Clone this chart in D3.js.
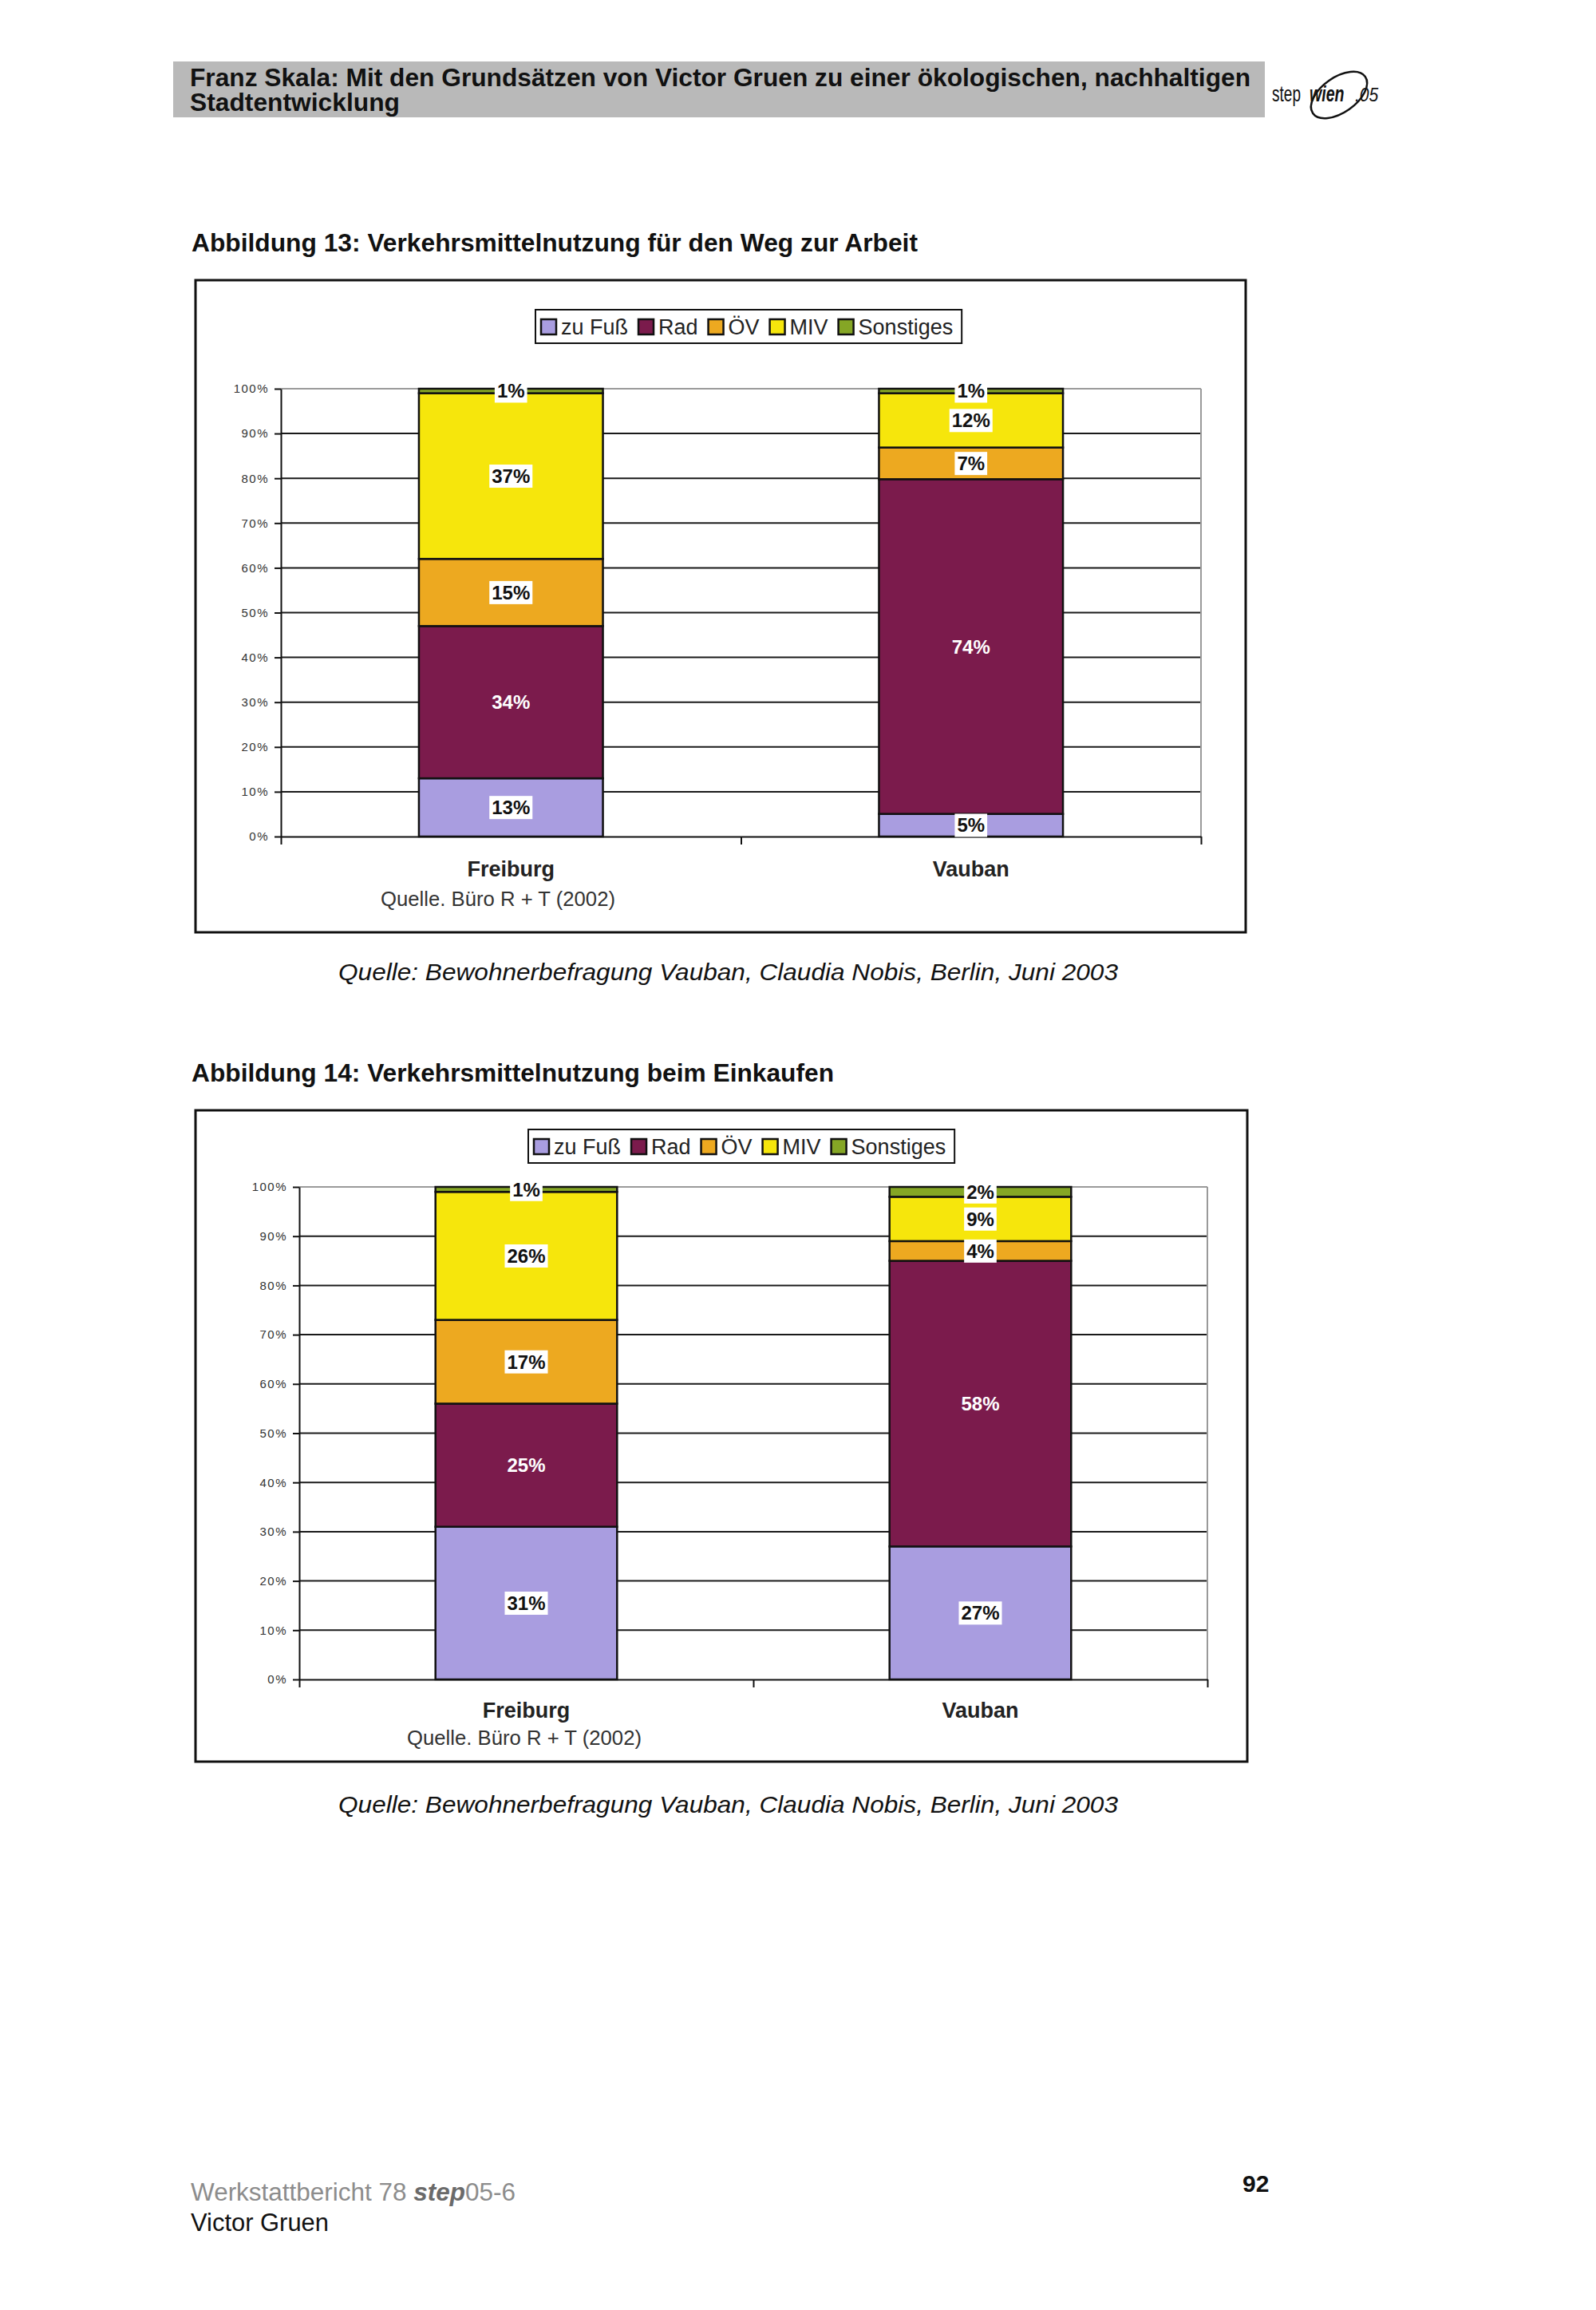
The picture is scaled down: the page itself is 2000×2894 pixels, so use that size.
<!DOCTYPE html>
<html lang="de">
<head>
<meta charset="utf-8"/>
<title>Verkehrsmittelnutzung Freiburg / Vauban</title>
<script src="https://cdn.jsdelivr.net/npm/d3@7"></script>
<style>
body { margin: 0; background: #fff; }
svg { display: block; font-family: "Liberation Sans", Arial, sans-serif; }
</style>
</head>
<body>
<svg id="page"></svg>
<script>
// categories and series (values in %, bottom to top)
const categories = ['Freiburg', 'Vauban']
const modes = ['zu Fuß', 'Rad', 'ÖV', 'MIV', 'Sonstiges']

// Abbildung 13: Weg zur Arbeit
const arbeitFreiburg = [13, 34, 15, 37, 1]
const arbeitVauban = [5, 74, 7, 12, 1]

// Abbildung 14: beim Einkaufen
const einkaufFreiburg = [31, 25, 17, 26, 1]
const einkaufVauban = [27, 58, 4, 9, 2]

const yTicks = [0, 10, 20, 30, 40, 50, 60, 70, 80, 90, 100]

const modeColors = ['#a99de0', '#7b1b4c', '#eda920', '#f6e60c', '#85a625']

const W = 2000, H = 2894
const svg = d3.select('#page').attr('width', W).attr('height', H).attr('viewBox', `0 0 ${W} ${H}`)
svg.append('rect').attr('width', W).attr('height', H).attr('fill', '#fff')

// ---- page header ----
svg.append('rect').attr('x', 217).attr('y', 77).attr('width', 1368).attr('height', 70).attr('fill', '#b9b9b9')
const head = svg.append('text').attr('font-size', 31).attr('font-weight', 'bold').attr('fill', '#111')
head.append('tspan').attr('x', 238).attr('y', 108)
  .attr('textLength', 1329).attr('lengthAdjust', 'spacingAndGlyphs')
  .text('Franz Skala: Mit den Grundsätzen von Victor Gruen zu einer ökologischen, nachhaltigen')
head.append('tspan').attr('x', 238).attr('y', 139)
  .attr('textLength', 263).attr('lengthAdjust', 'spacingAndGlyphs')
  .text('Stadtentwicklung')

// logo: narrow letters by squeezing each piece horizontally
const logo = svg.append('g')
logo.append('ellipse').attr('cx', 1678).attr('cy', 119).attr('rx', 40).attr('ry', 22)
  .attr('transform', 'rotate(-35 1678 119)')
  .attr('fill', 'none').attr('stroke', '#111').attr('stroke-width', 2.5)
logo.append('text').attr('transform', 'translate(1594,127) scale(0.68,1)')
  .attr('font-size', 28).attr('fill', '#111').text('step')
logo.append('text').attr('transform', 'translate(1641,127) scale(0.7,1)')
  .attr('font-size', 28).attr('font-weight', 'bold').attr('font-style', 'italic')
  .attr('fill', '#111').text('wien')
logo.append('text').attr('transform', 'translate(1698,127) scale(0.88,1)')
  .attr('font-size', 24).attr('font-style', 'italic').attr('fill', '#111').text('.05')

// ---- titles and captions ----
function title(txt, y, len) {
  svg.append('text').attr('x', 240).attr('y', y)
    .attr('font-size', 32).attr('font-weight', 'bold').attr('fill', '#111')
    .attr('textLength', len).attr('lengthAdjust', 'spacingAndGlyphs')
    .text(txt)
}
function caption(y) {
  svg.append('text').attr('x', 424).attr('y', y)
    .attr('font-size', 29).attr('font-style', 'italic').attr('fill', '#111')
    .attr('textLength', 977).attr('lengthAdjust', 'spacingAndGlyphs')
    .text('Quelle: Bewohnerbefragung Vauban, Claudia Nobis, Berlin, Juni 2003')
}

title('Abbildung 13: Verkehrsmittelnutzung für den Weg zur Arbeit', 315, 910)
caption(1228)
title('Abbildung 14: Verkehrsmittelnutzung beim Einkaufen', 1355, 805)
caption(2271)

// ---- chart ----
function drawChart(cfg, values) {
  const rows = categories.map((c, i) => {
    const r = { cat: c }
    modes.forEach((m, j) => { r[m] = values[i][j] })
    return r
  })

  const x = d3.scaleBand().domain(categories).range([cfg.x0, cfg.x1])
    .paddingInner(0.6).paddingOuter(0.3)
  const y = d3.scaleLinear().domain([0, 1]).range([cfg.y0, cfg.y1])

  // excel style 100% stack
  const layers = d3.stack().keys(modes).offset(d3.stackOffsetExpand)(rows)

  const g = svg.append('g')

  // frame
  g.append('rect').attr('x', cfg.fx).attr('y', cfg.fy).attr('width', cfg.fw).attr('height', cfg.fh)
    .attr('fill', '#fff').attr('stroke', '#111').attr('stroke-width', 3)

  // gridlines
  g.append('g').selectAll('line')
    .data(yTicks.filter(t => t > 0))
    .join('line')
    .attr('x1', cfg.x0).attr('x2', cfg.x1)
    .attr('y1', t => y(t / 100)).attr('y2', t => y(t / 100))
    .attr('stroke', t => t === 100 ? '#9a9a9a' : '#1a1a1a')
    .attr('stroke-width', 2)
  g.append('line')
    .attr('x1', cfg.x1).attr('x2', cfg.x1).attr('y1', cfg.y1).attr('y2', cfg.y0)
    .attr('stroke', '#9a9a9a').attr('stroke-width', 2)

  // y axis
  const yAxis = g.append('g').attr('transform', `translate(${cfg.x0},0)`)
    .call(d3.axisLeft(y).tickValues(yTicks.map(t => t / 100))
      .tickFormat(d3.format('.0%')).tickSize(8).tickSizeOuter(0).tickPadding(7))
  yAxis.selectAll('path, line').attr('stroke', '#111').attr('stroke-width', 2)
  yAxis.selectAll('text').attr('font-size', 15).attr('letter-spacing', 1.5)
    .attr('fill', '#333').attr('font-family', '"Liberation Sans", Arial, sans-serif')

  // x axis (ticks between categories)
  const xEdge = d3.scaleLinear().domain([0, categories.length]).range([cfg.x0, cfg.x1])
  const xAxis = g.append('g').attr('transform', `translate(0,${cfg.y0})`)
    .call(d3.axisBottom(xEdge).tickValues(d3.range(categories.length + 1))
      .tickFormat('').tickSize(10).tickSizeOuter(0))
  xAxis.selectAll('path, line').attr('stroke', '#111').attr('stroke-width', 2)

  // bars
  g.append('g').selectAll('g')
    .data(layers)
    .join('g')
    .attr('fill', (d, i) => modeColors[i])
    .selectAll('rect')
    .data(d => d)
    .join('rect')
    .attr('x', d => x(d.data.cat))
    .attr('y', d => y(d[1]))
    .attr('width', x.bandwidth())
    .attr('height', d => y(d[0]) - y(d[1]))
    .attr('stroke', '#111').attr('stroke-width', 2.5)

  // data labels
  const lab = g.append('g')
  layers.forEach((layer, li) => {
    layer.forEach(d => {
      const cx = x(d.data.cat) + x.bandwidth() / 2
      const cy = (y(d[0]) + y(d[1])) / 2
      const onDark = modes[li] === 'Rad'
      const lg = lab.append('g')
      const t = lg.append('text')
        .attr('x', cx).attr('y', cy).attr('dy', '0.36em')
        .attr('text-anchor', 'middle')
        .attr('font-size', 24).attr('font-weight', 'bold')
        .attr('fill', onDark ? '#fff' : '#111')
        .text(d.data[modes[li]] + '%')
      if (!onDark) {
        const bb = t.node().getBBox()
        lg.insert('rect', 'text')
          .attr('x', bb.x - 3).attr('y', bb.y - 1)
          .attr('width', bb.width + 6).attr('height', bb.height + 2)
          .attr('fill', '#fff')
      }
    })
  })

  // category labels
  g.append('g').selectAll('text')
    .data(categories)
    .join('text')
    .attr('x', c => x(c) + x.bandwidth() / 2)
    .attr('y', cfg.catY)
    .attr('text-anchor', 'middle')
    .attr('font-size', 27).attr('font-weight', 'bold').attr('fill', '#222')
    .text(c => c)

  g.append('text').attr('x', cfg.srcX).attr('y', cfg.srcY)
    .attr('font-size', 25).attr('fill', '#333')
    .attr('textLength', 294).attr('lengthAdjust', 'spacingAndGlyphs')
    .text('Quelle. Büro R + T (2002)')

  // legend
  const leg = g.append('g').attr('transform', `translate(${cfg.lx},${cfg.ly})`)
  const box = leg.append('rect').attr('height', 42)
    .attr('fill', '#fff').attr('stroke', '#111').attr('stroke-width', 2)
  let lx = 7
  modes.forEach((m, i) => {
    leg.append('rect').attr('x', lx).attr('y', 12).attr('width', 19).attr('height', 19)
      .attr('fill', modeColors[i]).attr('stroke', '#111').attr('stroke-width', 2.5)
    lx += 25
    const t = leg.append('text').attr('x', lx).attr('y', 31)
      .attr('font-size', 27).attr('fill', '#222').text(m)
    lx += t.node().getComputedTextLength() + 13
  })
  box.attr('width', lx - 2)
}

drawChart({
  fx: 245, fy: 351, fw: 1316, fh: 817,
  x0: 352, x1: 1505, y0: 1048, y1: 487,
  lx: 671, ly: 388,
  catY: 1098, srcX: 477, srcY: 1135
}, [arbeitFreiburg, arbeitVauban])

drawChart({
  fx: 245, fy: 1391, fw: 1318, fh: 816,
  x0: 375, x1: 1513, y0: 2104, y1: 1487,
  lx: 662, ly: 1415,
  catY: 2152, srcX: 510, srcY: 2186
}, [einkaufFreiburg, einkaufVauban])

// ---- footer ----
const foot = svg.append('text').attr('font-size', 31)
const foot1 = foot.append('tspan').attr('x', 239).attr('y', 2757).attr('fill', '#8c8c8c')
  .attr('textLength', 407).attr('lengthAdjust', 'spacingAndGlyphs')
foot1.append('tspan').text('Werkstattbericht 78 ')
foot1.append('tspan').attr('font-weight', 'bold').attr('font-style', 'italic').attr('fill', '#6a6a6a').text('step')
foot1.append('tspan').text('05-6')
foot.append('tspan').attr('x', 239).attr('y', 2795).attr('fill', '#111')
  .attr('textLength', 173).attr('lengthAdjust', 'spacingAndGlyphs')
  .text('Victor Gruen')

svg.append('text').attr('x', 1557).attr('y', 2746)
  .attr('font-size', 30).attr('font-weight', 'bold').attr('fill', '#111')
  .text('92')
</script>
</body>
</html>
